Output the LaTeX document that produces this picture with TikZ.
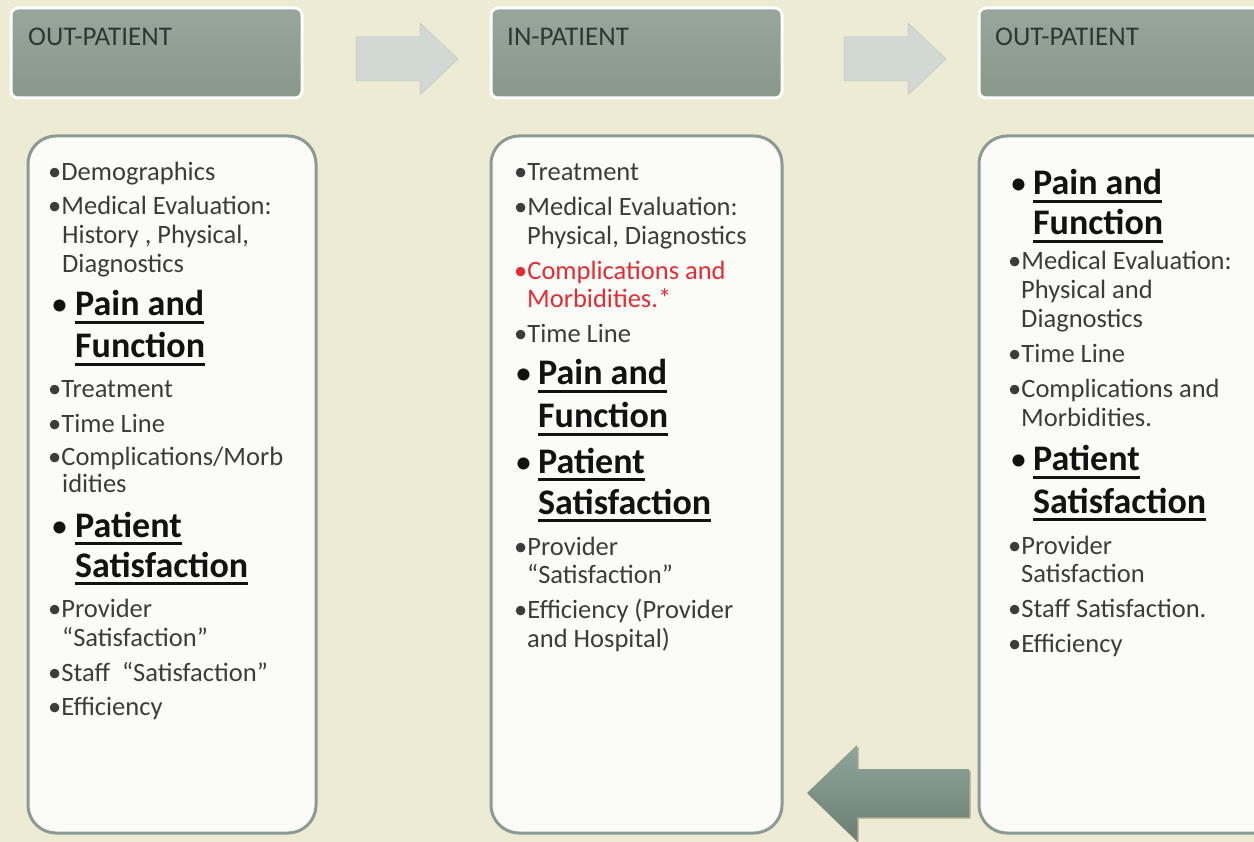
\documentclass[tikz,border=0pt]{standalone}
\usepackage{fontspec}
\setmainfont{Carlito}
\definecolor{bgc}{HTML}{EDEBD3}
\definecolor{hdrtop}{HTML}{98A69C}
\definecolor{hdrbot}{HTML}{889889}
\definecolor{hdrtxt}{HTML}{2E3832}
\definecolor{boxline}{HTML}{8A9A94}
\definecolor{boxfill}{HTML}{FBFCF8}
\definecolor{lightarrow}{HTML}{D2D8D3}
\definecolor{darktop}{HTML}{90A59B}
\definecolor{darkbot}{HTML}{6B7E74}
\definecolor{shadowc}{HTML}{A9A68C}
\definecolor{smalltxt}{HTML}{3C3C3C}
\definecolor{redtxt}{HTML}{E52B34}
\newcommand\ulbar[1]{\setbox0=\hbox{#1}\rlap{\rule[-8pt]{\wd0}{3pt}}\box0}
\tikzset{
  hdrbox/.style={draw=white, line width=3pt, rounded corners=7pt, top color=hdrtop, bottom color=hdrbot, anchor=north west, inner sep=0pt},
  hdrlabel/.style={anchor=base west, inner sep=0pt, text=hdrtxt, font=\fontsize{27}{32}\selectfont},
  listbox/.style={draw=boxline, line width=3pt, rounded corners=28pt, fill=boxfill, anchor=north west, inner sep=0pt},
  sm/.style={anchor=base west, inner sep=0pt, text=smalltxt, font=\fontsize{26.5}{29}\selectfont},
  smred/.style={sm, text=redtxt},
  bg/.style={anchor=base west, inner sep=0pt, text=black!93, font=\fontsize{36}{42}\selectfont\bfseries},
  bigdot/.style={anchor=base west, inner sep=0pt, text=black!93, font=\fontsize{34}{40}\selectfont},
  lightarr/.style={fill=lightarrow, draw=lightarrow!92!black, line width=0.5pt}
}
\begin{document}
\begin{tikzpicture}[x=1pt,y=-1pt]
\useasboundingbox (0,0) rectangle (1254,842);
\fill[bgc] (0,0) rectangle (1254,842);

% header boxes
\node[hdrbox, minimum width=291pt, minimum height=90pt] (h1) at (9.5,6.5) {};
\node[hdrbox, minimum width=291pt, minimum height=90pt] (h2) at (489.5,6.5) {};
\node[hdrbox, minimum width=300pt, minimum height=90pt] (h3) at (977.5,6.5) {};
\node[hdrlabel] (h1t) at (28,46) {OUT-PATIENT};
\node[hdrlabel] (h2t) at (507,46) {IN-PATIENT};
\node[hdrlabel] (h3t) at (995,46) {OUT-PATIENT};

% light arrows between headers
\path[lightarr] (356,37) -- (420,37) -- (420,23) -- (458,59) -- (420,95) -- (420,81) -- (356,81) -- cycle;
\path[lightarr] (844,37) -- (908,37) -- (908,23) -- (946,59) -- (908,95) -- (908,81) -- (844,81) -- cycle;

% list boxes
\node[listbox, minimum width=288pt, minimum height=697pt] (b1) at (26.5,134.5) {};
\node[listbox, minimum width=291pt, minimum height=697pt] (b2) at (489.5,134.5) {};
\node[listbox, minimum width=310pt, minimum height=697pt] (b3) at (977.5,134.5) {};

% bottom arrow
\fill[shadowc] (808.5,794.5) -- (858.5,746.5) -- (858.5,770.5) -- (970.5,770.5) -- (970.5,818.5) -- (858.5,818.5) -- (858.5,843) -- cycle;
\shade[top color=darktop, bottom color=darkbot] (807,793) -- (857,745) -- (857,769) -- (969,769) -- (969,817) -- (857,817) -- (857,841) -- cycle;

% column 1
\node[sm] (a1) at (48,181) {•Demographics};
\node[sm] (a2) at (48,215) {•Medical Evaluation:};
\node[sm] (a3) at (62,244) {History , Physical,};
\node[sm] (a4) at (62,273) {Diagnostics};
\node[bigdot] (a5b) at (51,316) {•};
\node[bg] (a5) at (75,316) {\ulbar{Pain and}};
\node[bg] (a6) at (75,358) {\ulbar{Function}};
\node[sm] (a7) at (48,398) {•Treatment};
\node[sm] (a8) at (48,432) {•Time Line};
\node[sm] (a9) at (48,465) {•Complications/Morb};
\node[sm] (a10) at (62,493) {idities};
\node[bigdot] (a11b) at (51,537) {•};
\node[bg] (a11) at (75,537) {\ulbar{Patient}};
\node[bg] (a12) at (75,577) {\ulbar{Satisfaction}};
\node[sm] (a13) at (48,617) {•Provider};
\node[sm] (a14) at (62,646) {“Satisfaction”};
\node[sm] (a15) at (48,681) {•Staff\ \ “Satisfaction”};
\node[sm] (a16) at (48,715) {•Efficiency};

% column 2
\node[sm] (c1) at (514,181) {•Treatment};
\node[sm] (c2) at (514,216) {•Medical Evaluation:};
\node[sm] (c3) at (527,245) {Physical, Diagnostics};
\node[smred] (c4) at (514,280) {•Complications and};
\node[smred] (c5) at (527,308) {Morbidities.*};
\node[sm] (c6) at (514,343) {•Time Line};
\node[bigdot] (c7b) at (515,385) {•};
\node[bg] (c7) at (538,385) {\ulbar{Pain and}};
\node[bg] (c8) at (538,428) {\ulbar{Function}};
\node[bigdot] (c9b) at (515,473) {•};
\node[bg] (c9) at (538,473) {\ulbar{Patient}};
\node[bg] (c10) at (538,514) {\ulbar{Satisfaction}};
\node[sm] (c11) at (514,555) {•Provider};
\node[sm] (c12) at (527,583) {“Satisfaction”};
\node[sm] (c13) at (514,618) {•Efficiency (Provider};
\node[sm] (c14) at (527,647) {and Hospital)};

% column 3
\node[bigdot] (e1b) at (1010,195) {•};
\node[bg] (e1) at (1033,195) {\ulbar{Pain and}};
\node[bg] (e2) at (1033,235) {\ulbar{Function}};
\node[sm] (e3) at (1008,270) {•Medical Evaluation:};
\node[sm] (e4) at (1021,299) {Physical and};
\node[sm] (e5) at (1021,328) {Diagnostics};
\node[sm] (e6) at (1008,363) {•Time Line};
\node[sm] (e7) at (1008,398) {•Complications and};
\node[sm] (e8) at (1021,427) {Morbidities.};
\node[bigdot] (e9b) at (1010,471) {•};
\node[bg] (e9) at (1033,471) {\ulbar{Patient}};
\node[bg] (e10) at (1033,513) {\ulbar{Satisfaction}};
\node[sm] (e11) at (1008,554) {•Provider};
\node[sm] (e12) at (1021,582) {Satisfaction};
\node[sm] (e13) at (1008,617) {•Staff Satisfaction.};
\node[sm] (e14) at (1008,652) {•Efficiency};
\end{tikzpicture}
\end{document}
